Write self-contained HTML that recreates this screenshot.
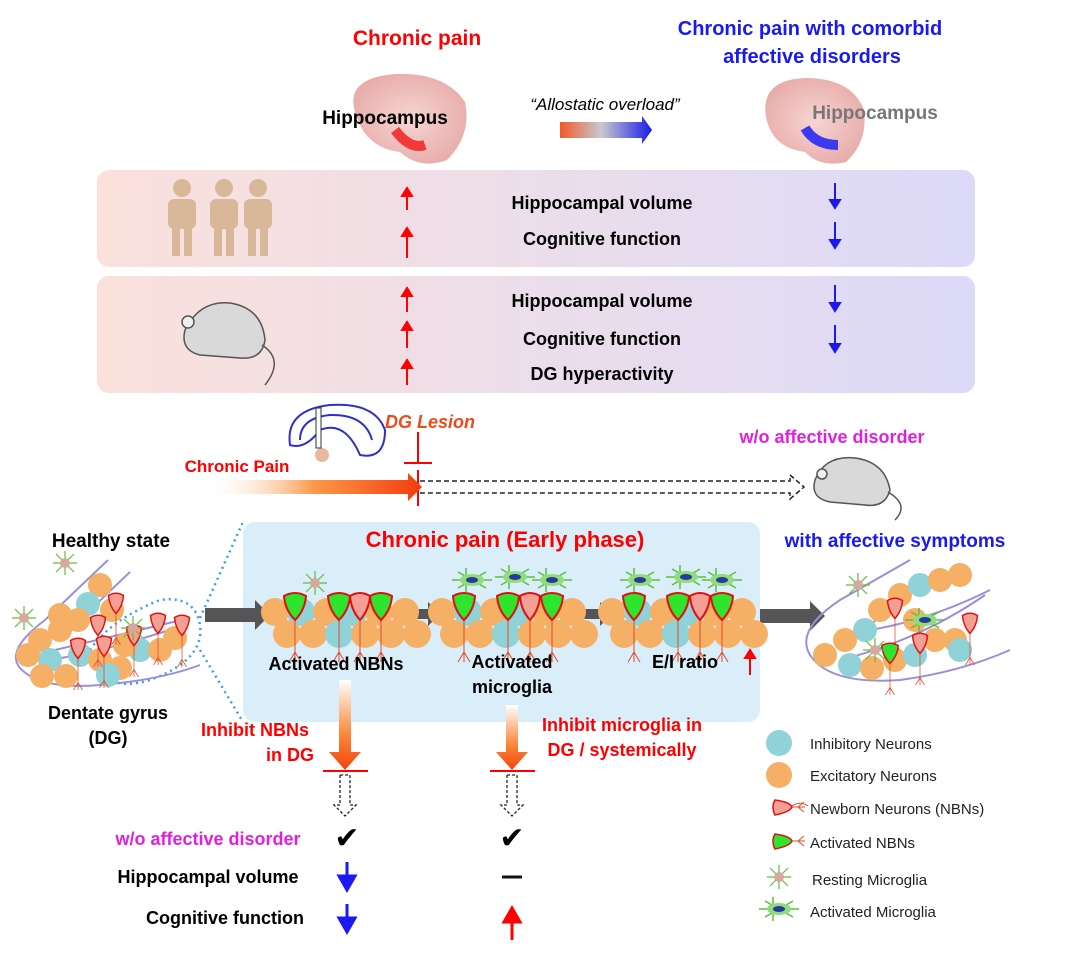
<!DOCTYPE html>
<html><head><meta charset="utf-8"><style>
body{margin:0;background:#fff}
svg{display:block;font-family:"Liberation Sans",Arial,sans-serif}
.b{font-weight:bold}
</style></head><body>
<svg width="1069" height="963" viewBox="0 0 1069 963" xmlns="http://www.w3.org/2000/svg">
<defs>
<linearGradient id="pg" x1="0" x2="1"><stop offset="0" stop-color="#fbe1dc"/><stop offset="1" stop-color="#dcdaf8"/></linearGradient>
<linearGradient id="ao" x1="0" x2="1"><stop offset="0" stop-color="#f05a28"/><stop offset=".45" stop-color="#c8c8d0"/><stop offset="1" stop-color="#1a1ae8"/></linearGradient>
<linearGradient id="cp" x1="0" x2="1"><stop offset="0" stop-color="#fff" stop-opacity="0"/><stop offset=".5" stop-color="#fb9a4a"/><stop offset="1" stop-color="#f43b0c"/></linearGradient>
<linearGradient id="dv" x1="0" x2="0" y1="0" y2="1"><stop offset="0" stop-color="#fff"/><stop offset=".6" stop-color="#f9893a"/><stop offset="1" stop-color="#f4420e"/></linearGradient>
<radialGradient id="br" cx=".5" cy=".5" r=".6"><stop offset="0" stop-color="#f6d5d3"/><stop offset="1" stop-color="#e6a9a6"/></radialGradient>
<g id="cl">
<circle cx="0" cy="0" r="14" fill="#f5b066"/><circle cx="26" cy="0" r="14" fill="#8fd3d8"/><circle cx="52" cy="0" r="14" fill="#f5b066"/><circle cx="78" cy="0" r="14" fill="#8fd3d8"/><circle cx="104" cy="0" r="14" fill="#f5b066"/><circle cx="130" cy="0" r="14" fill="#f5b066"/>
<circle cx="12" cy="22" r="14" fill="#f5b066"/><circle cx="38" cy="22" r="14" fill="#f5b066"/><circle cx="64" cy="22" r="14" fill="#8fd3d8"/><circle cx="90" cy="22" r="14" fill="#f5b066"/><circle cx="116" cy="22" r="14" fill="#f5b066"/><circle cx="142" cy="22" r="14" fill="#f5b066"/>
</g>
<g id="nbn"><path d="M0 18 V60 M0 50 l-6 10 M0 50 l6 10" stroke="#e24a2a" fill="none"/><path d="M-11 -6 Q0 -12 11 -6 Q10 8 0 18 Q-10 8 -11 -6Z" fill="#2ee52e" stroke="#e01010" stroke-width="2"/></g>
<g id="nb"><path d="M0 18 V60 M0 50 l-6 10 M0 50 l6 10" stroke="#e24a2a" fill="none"/><path d="M-10 -6 Q0 -12 10 -6 Q9 8 0 18 Q-9 8 -10 -6Z" fill="#f3a094" stroke="#e01010" stroke-width="2"/></g>
<g id="mr"><g stroke="#5cbf3a" stroke-width="1.2"><path d="M-12 0H12M0 -12V12M-9 -9L9 9M-9 9L9 -9"/></g><circle r="5" fill="#d8a8a0"/></g>
<g id="ma"><g stroke="#5cbf3a" stroke-width="1.5"><path d="M-20 0H20M-14 -8L14 8M-14 8L14 -8M-6 -12V12"/></g><ellipse rx="12" ry="6" fill="#8fdc7a"/><ellipse rx="6" ry="3" fill="#2a3a9a"/></g>
<g id="o"><circle r="12" fill="#f5b066"/></g>
<g id="t"><circle r="12" fill="#8fd3d8"/></g>
</defs>

<text x="417" y="45" text-anchor="middle" fill="#f00" font-size="21" class="b">Chronic pain</text>
<text x="810" y="35" text-anchor="middle" fill="#1a1af0" font-size="20" class="b">Chronic pain with comorbid</text>
<text x="812" y="63" text-anchor="middle" fill="#1a1af0" font-size="20" class="b">affective disorders</text>
<path d="M355 112 Q345 78 395 74 Q445 72 465 102 Q472 135 447 160 Q420 170 400 152 Q365 148 355 112Z" fill="url(#br)"/>
<path d="M395 130 Q410 150 425 145" stroke="#f23838" stroke-width="10" fill="none"/>
<text x="385" y="124" text-anchor="middle" font-size="19" class="b">Hippocampus</text>
<path d="M766 117 Q760 80 805 78 Q852 78 864 110 Q868 142 846 162 Q820 168 805 152 Q772 148 766 117Z" fill="url(#br)"/>
<path d="M805 128 Q815 145 838 145" stroke="#3a3af0" stroke-width="10" fill="none"/>
<text x="875" y="119" text-anchor="middle" font-size="19" fill="#777" class="b">Hippocampus</text>
<text x="605" y="110" text-anchor="middle" font-size="17" font-style="italic">“Allostatic overload”</text>
<path d="M560 122 H642 V116 L652 130 L642 144 V138 H560Z" fill="url(#ao)"/>

<rect x="97" y="170" width="878" height="97" rx="12" fill="url(#pg)"/>
<rect x="97" y="276" width="878" height="117" rx="12" fill="url(#pg)"/>
<g fill="#d8b898">
<circle cx="182" cy="188" r="9"/><rect x="168" y="199" width="28" height="30" rx="6"/><rect x="172" y="226" width="8" height="30"/><rect x="184" y="226" width="8" height="30"/>
<circle cx="224" cy="188" r="9"/><rect x="210" y="199" width="28" height="30" rx="6"/><rect x="214" y="226" width="8" height="30"/><rect x="226" y="226" width="8" height="30"/>
<circle cx="258" cy="188" r="9"/><rect x="244" y="199" width="28" height="30" rx="6"/><rect x="248" y="226" width="8" height="30"/><rect x="260" y="226" width="8" height="30"/>
</g>
<g font-size="18" class="b" text-anchor="middle">
<text x="602" y="209">Hippocampal volume</text><text x="602" y="245">Cognitive function</text>
<text x="602" y="307">Hippocampal volume</text><text x="602" y="345">Cognitive function</text><text x="602" y="380">DG hyperactivity</text>
</g>
<g stroke="#f00" stroke-width="2" fill="#f00">
<path d="M407 210V190"/><path d="M402 196L407 188L412 196Z"/>
<path d="M407 258V230"/><path d="M402 236L407 228L412 236Z"/>
<path d="M407 312V290"/><path d="M402 296L407 288L412 296Z"/>
<path d="M407 348V324"/><path d="M402 330L407 322L412 330Z"/>
<path d="M407 385V362"/><path d="M402 368L407 360L412 368Z"/>
</g>
<g stroke="#1a1af0" stroke-width="2" fill="#1a1af0">
<path d="M835 183V205"/><path d="M830 200L835 208L840 200Z"/>
<path d="M835 222V245"/><path d="M830 240L835 248L840 240Z"/>
<path d="M835 285V308"/><path d="M830 303L835 311L840 303Z"/>
<path d="M835 325V349"/><path d="M830 344L835 352L840 344Z"/>
</g>
<g stroke="#555" stroke-width="1.5" fill="#d9d9d9">
<path d="M185 330 Q200 300 230 303 Q262 308 265 340 Q262 360 240 358 L200 355 Q180 350 185 330Z"/>
<path d="M262 345 Q285 360 265 385" fill="none"/>
<circle cx="188" cy="322" r="6" fill="#eee"/>
</g>
<path d="M290 445 Q285 410 330 405 Q375 402 385 430 Q385 460 360 455 Q345 420 320 430 Q305 450 290 445Z" fill="none" stroke="#3030c8" stroke-width="2"/>
<path d="M300 440 Q300 418 330 415 Q365 414 372 440" fill="none" stroke="#3030c8" stroke-width="2"/>
<circle cx="322" cy="455" r="7" fill="#e8b8a0"/>
<rect x="316" y="408" width="5" height="40" fill="#fff" stroke="#333"/>
<text x="430" y="428" text-anchor="middle" fill="#f04a1a" font-size="18" font-style="italic" class="b">DG Lesion</text>
<g stroke="#f00" stroke-width="2"><path d="M418 432V462M404 463H432M418 470V506"/></g>
<text x="237" y="472" text-anchor="middle" fill="#f00" font-size="17" class="b">Chronic Pain</text>
<path d="M205 480 H408 V473 L422 487 L408 501 V494 H205Z" fill="url(#cp)"/>
<path d="M420 481H790V475L804 487L790 499V493H420" fill="none" stroke="#222" stroke-width="1.5" stroke-dasharray="5 3"/>
<text x="832" y="443" text-anchor="middle" fill="#e020e0" font-size="18" class="b">w/o affective disorder</text>
<g stroke="#555" stroke-width="1.5" fill="#d9d9d9">
<path d="M815 480 Q825 455 855 458 Q885 462 890 490 Q885 508 865 505 L830 502 Q810 498 815 480Z"/>
<path d="M888 492 Q910 505 895 520" fill="none"/>
<circle cx="822" cy="474" r="5" fill="#eee"/>
</g>

<rect x="243" y="522" width="517" height="200" rx="12" fill="#d9eef8"/>
<path d="M200 618 L243 522 M200 650 L243 722" stroke="#3aa0e0" stroke-width="2.5" stroke-dasharray="2 4"/>
<path d="M90 650 Q110 620 160 600 Q195 595 200 625 Q205 660 150 680 Q100 695 90 650Z" fill="none" stroke="#3aa0e0" stroke-width="2.5" stroke-dasharray="2 4"/>
<text x="505" y="547" text-anchor="middle" fill="#f00" font-size="22" class="b">Chronic pain (Early phase)</text>
<text x="111" y="547" text-anchor="middle" font-size="19" class="b">Healthy state</text>
<text x="895" y="547" text-anchor="middle" fill="#1a1af0" font-size="19" class="b">with affective symptoms</text>

<!-- healthy DG -->
<path d="M108 560 L45 620 Q5 650 20 668 Q40 690 100 685 Q160 680 200 665 M130 572 Q90 610 70 630 M55 650 L190 618 M50 660 Q110 650 185 625" fill="none" stroke="#9a90d8" stroke-width="2"/>
<use href="#o" x="100" y="585"/><use href="#o" x="112" y="610"/><use href="#t" x="88" y="604"/><use href="#o" x="78" y="620"/><use href="#o" x="60" y="630"/><use href="#o" x="40" y="640"/><use href="#t" x="50" y="660"/><use href="#o" x="28" y="655"/><use href="#o" x="42" y="676"/><use href="#o" x="66" y="676"/><use href="#t" x="80" y="655"/><use href="#o" x="100" y="660"/><use href="#o" x="120" y="668"/><use href="#t" x="140" y="650"/><use href="#o" x="160" y="650"/><use href="#o" x="175" y="638"/><use href="#o" x="125" y="645"/><use href="#t" x="108" y="675"/><use href="#o" x="60" y="615"/>
<use href="#nb" transform="translate(116 600) scale(.75)"/><use href="#nb" transform="translate(98 622) scale(.75)"/><use href="#nb" transform="translate(78 645) scale(.75)"/><use href="#nb" transform="translate(104 643) scale(.75)"/><use href="#nb" transform="translate(134 632) scale(.75)"/><use href="#nb" transform="translate(158 620) scale(.75)"/><use href="#nb" transform="translate(182 622) scale(.75)"/>
<use href="#mr" transform="translate(65 563)"/><use href="#mr" transform="translate(24 618)"/><use href="#mr" transform="translate(133 628)"/>
<text x="108" y="719" text-anchor="middle" font-size="18" class="b">Dentate gyrus</text>
<text x="108" y="744" text-anchor="middle" font-size="18" class="b">(DG)</text>

<g fill="#555">
<path d="M205 608H255V600L270 615L255 630V622H205Z"/>
<path d="M408 609H428V602L440 614L428 626V619H408Z"/>
<path d="M578 609H600V602L612 614L600 626V619H578Z"/>
<path d="M760 609H810V601L825 616L810 631V623H760Z"/>
</g>
<use href="#cl" transform="translate(275 612)"/>
<use href="#nbn" transform="translate(295 602)"/><use href="#nbn" transform="translate(339 602)"/><use href="#nb" transform="translate(360 602)"/><use href="#nbn" transform="translate(381 602)"/>
<use href="#mr" transform="translate(315 583)"/>
<text x="336" y="670" text-anchor="middle" font-size="18" class="b">Activated NBNs</text>
<use href="#cl" transform="translate(442 612)"/>
<use href="#nbn" transform="translate(464 602)"/><use href="#nbn" transform="translate(508 602)"/><use href="#nb" transform="translate(530 602)"/><use href="#nbn" transform="translate(552 602)"/>
<use href="#ma" transform="translate(472 580)"/><use href="#ma" transform="translate(515 577)"/><use href="#ma" transform="translate(552 580)"/>
<text x="512" y="668" text-anchor="middle" font-size="18" class="b">Activated</text>
<text x="512" y="693" text-anchor="middle" font-size="18" class="b">microglia</text>
<use href="#cl" transform="translate(612 612)"/>
<use href="#nbn" transform="translate(634 602)"/><use href="#nbn" transform="translate(678 602)"/><use href="#nb" transform="translate(700 602)"/><use href="#nbn" transform="translate(722 602)"/>
<use href="#ma" transform="translate(640 580)"/><use href="#ma" transform="translate(686 577)"/><use href="#ma" transform="translate(722 580)"/>
<text x="685" y="668" text-anchor="middle" font-size="18" class="b">E/I ratio</text>
<g stroke="#f00" stroke-width="2" fill="#f00"><path d="M750 675V652"/><path d="M745 658L750 650L755 658Z"/></g>

<!-- right DG -->
<path d="M910 560 L840 600 Q795 630 810 655 Q830 685 900 680 Q960 672 1010 650 M925 580 L870 625 M840 660 Q920 640 985 595 M870 630 Q930 620 990 590" fill="none" stroke="#9a90d8" stroke-width="2"/>
<use href="#o" x="900" y="595"/><use href="#t" x="920" y="585"/><use href="#o" x="940" y="580"/><use href="#o" x="960" y="575"/><use href="#o" x="880" y="610"/><use href="#t" x="865" y="630"/><use href="#o" x="845" y="640"/><use href="#o" x="825" y="655"/><use href="#t" x="850" y="665"/><use href="#o" x="872" y="668"/><use href="#o" x="895" y="660"/><use href="#t" x="915" y="655"/><use href="#o" x="935" y="640"/><use href="#o" x="955" y="640"/><use href="#t" x="960" y="650"/><use href="#o" x="915" y="620"/>
<use href="#nb" transform="translate(895 605) scale(.75)"/><use href="#nbn" transform="translate(890 650) scale(.75)"/><use href="#nb" transform="translate(920 640) scale(.75)"/><use href="#nb" transform="translate(970 620) scale(.75)"/>
<use href="#ma" transform="translate(925 620)"/><use href="#mr" transform="translate(858 585)"/><use href="#mr" transform="translate(875 650)"/>

<path d="M339 680H351V752H361L345 770L329 752H339Z" fill="url(#dv)"/>
<path d="M506 705H518V752H528L512 770L496 752H506Z" fill="url(#dv)"/>
<g stroke="#f00" stroke-width="2"><path d="M323 771H368M490 771H535"/></g>
<g fill="none" stroke="#222" stroke-width="1.3" stroke-dasharray="3 2">
<path d="M340 775V805H334L345 816L356 805H350V775Z"/>
<path d="M507 775V805H501L512 816L523 805H517V775Z"/>
</g>
<g fill="#f00" font-size="18" class="b" text-anchor="middle">
<text x="255" y="736">Inhibit NBNs</text><text x="290" y="761">in DG</text>
<text x="622" y="731">Inhibit microglia in</text><text x="622" y="756">DG / systemically</text>
</g>

<circle cx="779" cy="743" r="13" fill="#8fd3d8"/>
<circle cx="779" cy="775" r="13" fill="#f5b066"/>
<path d="M790 807 Q800 800 808 806 M790 807 H805 M798 807 l6 -5 M798 807 l6 5" stroke="#e24a2a" fill="none"/>
<path d="M775 800 Q790 802 792 807 Q790 812 775 815 Q771 807 775 800Z" fill="#f3a094" stroke="#e01010" stroke-width="1.5"/>
<path d="M790 841 H805 M798 841 l6 -5 M798 841 l6 5" stroke="#e24a2a" fill="none"/>
<path d="M775 834 Q790 836 792 841 Q790 846 775 849 Q771 841 775 834Z" fill="#2ee52e" stroke="#e01010" stroke-width="1.5"/>
<use href="#mr" transform="translate(779 877)"/>
<use href="#ma" transform="translate(779 909)"/>
<g font-size="15" fill="#222">
<text x="810" y="749">Inhibitory Neurons</text>
<text x="810" y="781">Excitatory Neurons</text>
<text x="810" y="814">Newborn Neurons (NBNs)</text>
<text x="810" y="848">Activated NBNs</text>
<text x="812" y="885">Resting Microglia</text>
<text x="810" y="917">Activated Microglia</text>
</g>

<text x="208" y="845" text-anchor="middle" fill="#e020e0" font-size="18" class="b">w/o affective disorder</text>
<text x="208" y="883" text-anchor="middle" font-size="18" class="b">Hippocampal volume</text>
<text x="225" y="924" text-anchor="middle" font-size="18" class="b">Cognitive function</text>
<text x="347" y="848" text-anchor="middle" font-size="30">✔</text>
<text x="512" y="848" text-anchor="middle" font-size="30">✔</text>
<g stroke="#1a1af0" stroke-width="3" fill="#1a1af0">
<path d="M347 862V880"/><path d="M339 876L347 890L355 876Z"/>
<path d="M347 904V922"/><path d="M339 918L347 932L355 918Z"/>
</g>
<path d="M502 877H522" stroke="#111" stroke-width="3"/>
<g stroke="#f00" stroke-width="3" fill="#f00"><path d="M512 940V918"/><path d="M504 922L512 908L520 922Z"/></g>
</svg>
</body></html>
